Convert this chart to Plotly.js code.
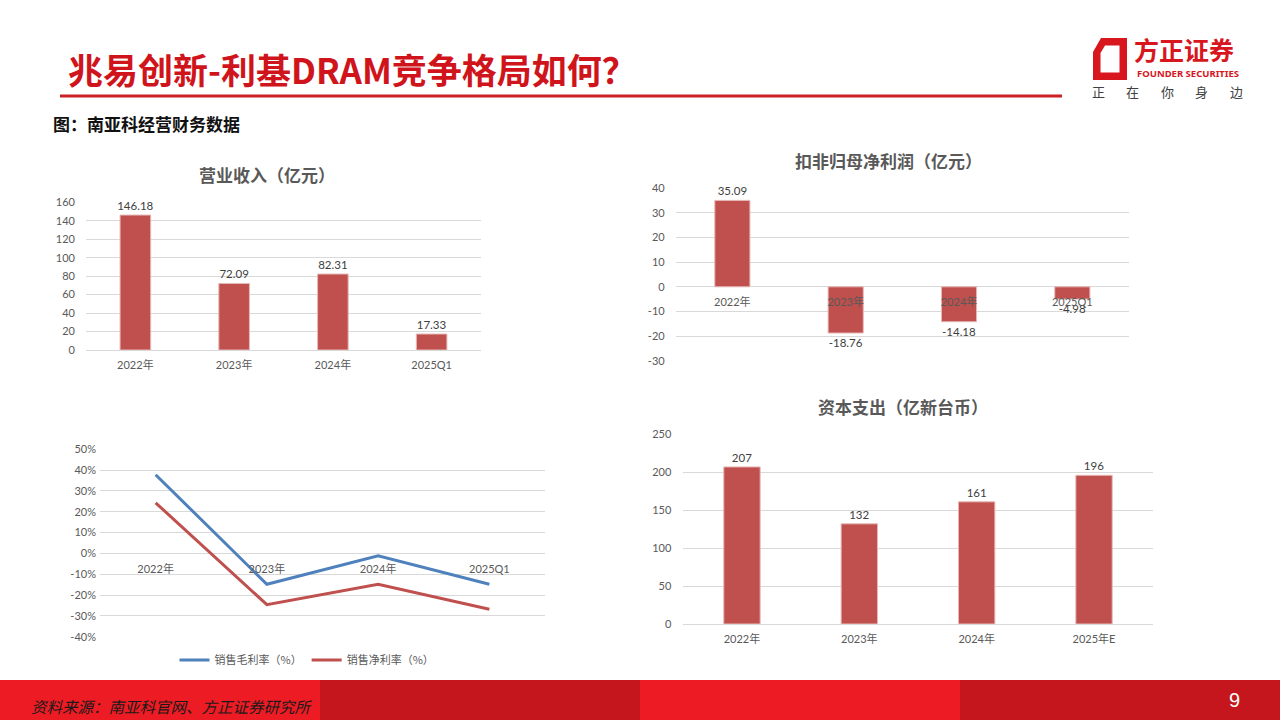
<!DOCTYPE html>
<html><head><meta charset="utf-8">
<script src="https://cdn.plot.ly/plotly-3.0.1.min.js"></script>
<style>html,body{margin:0;padding:0;background:#fff;}#chart{width:1280px;height:720px;}</style>
</head><body><div id="chart"></div>
<script>
// ---- data ----
const revCats = ['2022年','2023年','2024年','2025Q1'];
const revenue = [146.18, 72.09, 82.31, 17.33];
const profitCats = ['2022年','2023年','2024年','2025Q1'];
const netProfit = [35.09, -18.76, -14.18, -4.98];
const marginCats = ['2022年','2023年','2024年','2025Q1'];
const grossMargin = [37.8, -14.8, -1.2, -14.8];
const netMargin = [24.3, -24.6, -14.8, -26.8];
const capexCats = ['2022年','2023年','2024年','2025年E'];
const capex = [207, 132, 161, 196];
const seriesNames = ['销售毛利率（%）','销售净利率（%）'];
const revTicks = [0,20,40,60,80,100,120,140,160];
const profitTicks = [-30,-20,-10,0,10,20,30,40];
const marginTicks = [-40,-30,-20,-10,0,10,20,30,40,50];
const capexTicks = [0,50,100,150,200,250];

// ---- helpers ----
const W = 1280, H = 720;
const X = v => v / W;
const Y = v => 1 - v / H;
const CJK = "'Noto Sans CJK SC', sans-serif";
const NUM = "Lato, 'Noto Sans CJK SC', sans-serif";
const BAR = '#C0504D', BAR_EDGE = '#E6B9B8', GRID = '#D9D9D9', TICK = '#595959';
const fmt = v => (v < 0 ? '-' : '') + Math.abs(v).toFixed(2);
const tickTxt = (arr, suf) => arr.map(v => (v < 0 ? '-' : '') + Math.abs(v) + (suf || ''));

const labelFont = {family: NUM, size: 11.5, color: '#404040'};
function barTrace(cats, vals, texts, xa, ya) {
  return {type: 'bar', x: cats, y: vals, xaxis: xa, yaxis: ya, width: 0.31,
    marker: {color: BAR, line: {color: BAR_EDGE, width: 1}},
    text: texts, textposition: 'outside', textfont: labelFont, cliponaxis: false,
    constraintext: 'none', showlegend: false, hoverinfo: 'x+y'};
}

const traces = [
  barTrace(revCats, revenue, revenue.map(fmt), 'x', 'y'),
  barTrace(profitCats, netProfit, netProfit.map(fmt), 'x2', 'y2'),
  {type: 'scatter', mode: 'lines', x: marginCats, y: grossMargin, xaxis: 'x3', yaxis: 'y3',
    name: seriesNames[0], line: {color: '#4F81BD', width: 3}},
  {type: 'scatter', mode: 'lines', x: marginCats, y: netMargin, xaxis: 'x3', yaxis: 'y3',
    name: seriesNames[1], line: {color: '#C0504D', width: 3}},
  barTrace(capexCats, capex, capex.map(String), 'x4', 'y4')
];

const tickfont = {family: NUM, size: 11, color: TICK};
function xAxis(dom, anchor, pos, n) {
  const a = {domain: dom, type: 'category', range: [-0.5, n - 0.5], tickfont: tickfont, ticks: 'outside', ticklen: 5,
    tickcolor: 'rgba(0,0,0,0)', showgrid: false, showline: false, zeroline: false, fixedrange: true};
  if (anchor === 'free') { a.anchor = 'free'; a.position = pos; } else { a.anchor = anchor; }
  return a;
}
function yAxis(dom, anchor, range, ticks, suf, standoff) {
  return {domain: dom, anchor: anchor, range: range, tickmode: 'array', tickvals: ticks,
    ticktext: tickTxt(ticks, suf), tickfont: tickfont, gridcolor: GRID, gridwidth: 1,
    zeroline: true, zerolinecolor: GRID, zerolinewidth: 1, showline: false, ticks: '',
    ticklabelstandoff: standoff, fixedrange: true};
}
const y2dom = [Y(360.7), Y(188.3)], y2range = [-30, 40];
const y3dom = [Y(636.7), Y(449.3)], y3range = [-40, 50];
const zeroPos = (dom, r) => dom[0] + (dom[1] - dom[0]) * (0 - r[0]) / (r[1] - r[0]);

// ---- decorations ----
const shapes = [
  {type: 'line', xref: 'paper', yref: 'paper', x0: X(60), x1: X(1062), y0: Y(96), y1: Y(96),
    line: {color: '#CC1F26', width: 3}},
  {type: 'rect', xref: 'paper', yref: 'paper', x0: 0, x1: X(320), y0: 0, y1: Y(680), fillcolor: '#ED1C24', line: {width: 0}},
  {type: 'rect', xref: 'paper', yref: 'paper', x0: X(320), x1: X(640), y0: 0, y1: Y(680), fillcolor: '#C4161C', line: {width: 0}},
  {type: 'rect', xref: 'paper', yref: 'paper', x0: X(640), x1: X(960), y0: 0, y1: Y(680), fillcolor: '#ED1C24', line: {width: 0}},
  {type: 'rect', xref: 'paper', yref: 'paper', x0: X(960), x1: 1, y0: 0, y1: Y(680), fillcolor: '#C4161C', line: {width: 0}},
];
function pathFrom(pts) {
  return 'M' + pts.map(p => X(p[0]).toFixed(5) + ',' + Y(p[1]).toFixed(5)).join('L') + 'Z';
}
shapes.push({type: 'path', xref: 'paper', yref: 'paper', fillcolor: '#D7161E', line: {width: 0},
  path: pathFrom([[1101, 38], [1127, 38], [1127, 80], [1093, 80], [1093, 52]])});
shapes.push({type: 'path', xref: 'paper', yref: 'paper', fillcolor: '#ffffff', line: {width: 0},
  path: pathFrom([[1105, 45.5], [1119.5, 45.5], [1119.5, 72.5], [1100.5, 72.5], [1100.5, 53]])});

const annotations = [
  {text: '<b>兆易创新-利基DRAM竞争格局如何？</b>', xref: 'paper', yref: 'paper', x: X(66), y: Y(68),
    xanchor: 'left', yanchor: 'middle', showarrow: false, font: {family: CJK, size: 35, color: '#D0141C'}},
  {text: '<b>图：南亚科经营财务数据</b>', xref: 'paper', yref: 'paper', x: X(51), y: Y(123),
    xanchor: 'left', yanchor: 'middle', showarrow: false, font: {family: CJK, size: 17, color: '#111'}},
  {text: '<b>方正证券</b>', xref: 'paper', yref: 'paper', x: X(1132), y: Y(49), xanchor: 'left', yanchor: 'middle',
    showarrow: false, font: {family: CJK, size: 25, color: '#D7161E'}},
  {text: '<b>FOUNDER SECURITIES</b>', xref: 'paper', yref: 'paper', x: X(1188), y: Y(73.5), xanchor: 'center', yanchor: 'middle',
    showarrow: false, font: {family: "'Noto Sans', sans-serif", size: 9.5, color: '#D7161E'}},
  {text: '<b>营业收入（亿元）</b>', xref: 'paper', yref: 'paper', x: X(267), y: Y(174), xanchor: 'center', yanchor: 'middle',
    showarrow: false, font: {family: CJK, size: 17, color: TICK}},
  {text: '<b>扣非归母净利润（亿元）</b>', xref: 'paper', yref: 'paper', x: X(888), y: Y(160), xanchor: 'center', yanchor: 'middle',
    showarrow: false, font: {family: CJK, size: 17, color: TICK}},
  {text: '<b>资本支出（亿新台币）</b>', xref: 'paper', yref: 'paper', x: X(903), y: Y(406.5), xanchor: 'center', yanchor: 'middle',
    showarrow: false, font: {family: CJK, size: 17, color: TICK}},
  {text: '资料来源：南亚科官网、方正证券研究所', xref: 'paper', yref: 'paper', x: X(29), y: Y(706), xanchor: 'left', yanchor: 'middle',
    showarrow: false, font: {family: CJK, size: 15.5, color: '#1a1a1a', style: 'italic'}},
  {text: '9', xref: 'paper', yref: 'paper', x: X(1234), y: Y(700), xanchor: 'center', yanchor: 'middle',
    showarrow: false, font: {family: "'Liberation Sans', sans-serif", size: 20, color: '#ffffff'}}
];
['正','在','你','身','边'].forEach((c, i) => annotations.push({text: c, xref: 'paper', yref: 'paper',
  x: X(1098 + i * 34.5), y: Y(91), xanchor: 'center', yanchor: 'middle', showarrow: false,
  font: {family: CJK, size: 13, color: '#404040'}}));

const layout = {
  width: W, height: H, margin: {l: 0, r: 0, t: 0, b: 0},
  paper_bgcolor: '#ffffff', plot_bgcolor: 'rgba(0,0,0,0)',
  font: {family: NUM, color: TICK},
  xaxis: xAxis([X(86), X(481)], 'y', 0, revCats.length),
  yaxis: yAxis([Y(350), Y(202.3)], 'x', [0, 160], revTicks, '', 10),
  xaxis2: xAxis([X(675.7), X(1129)], 'free', zeroPos(y2dom, y2range), profitCats.length),
  yaxis2: yAxis(y2dom, 'x2', y2range, profitTicks, '', 10),
  xaxis3: xAxis([X(100), X(545)], 'free', zeroPos(y3dom, y3range), marginCats.length),
  yaxis3: yAxis(y3dom, 'x3', y3range, marginTicks, '%', 3),
  xaxis4: xAxis([X(683.3), X(1152.7)], 'y4', 0, capexCats.length),
  yaxis4: yAxis([Y(624), Y(434.3)], 'x4', [0, 250], capexTicks, '', 11),
  showlegend: true,
  legend: {orientation: 'h', x: X(307), xanchor: 'center', y: Y(660), yanchor: 'middle',
    font: {family: CJK, size: 11, color: TICK}, itemwidth: 30, bgcolor: 'rgba(0,0,0,0)', traceorder: 'normal'},
  shapes: shapes, annotations: annotations
};
Plotly.newPlot('chart', traces, layout, {staticPlot: true, displayModeBar: false});
</script></body></html>
